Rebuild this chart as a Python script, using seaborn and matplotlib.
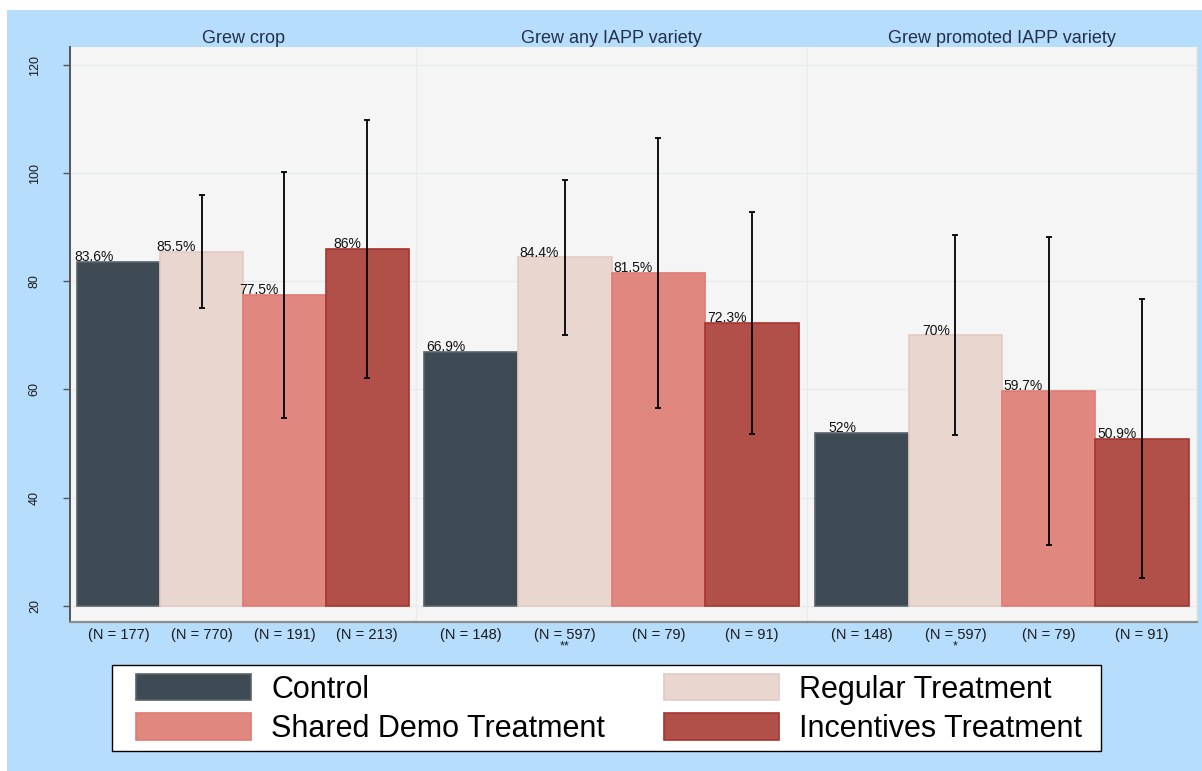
import numpy as np
import pandas as pd
import matplotlib
matplotlib.use("Agg")
import matplotlib.pyplot as plt
from matplotlib.patches import Patch, Rectangle
import seaborn as sns

# ---- data -------------------------------------------------------------
outcomes = ["Grew crop", "Grew any IAPP variety", "Grew promoted IAPP variety"]
treatments = ["Control", "Regular Treatment", "Shared Demo Treatment",
              "Incentives Treatment"]

crop_pct = [83.6, 85.5, 77.5, 86]
any_iapp_pct = [66.9, 84.4, 81.5, 72.3]
promoted_pct = [52, 70, 59.7, 50.9]

# half-width of the confidence interval (none for the control group)
crop_ci = [np.nan, 10.4, 22.8, 23.8]
any_iapp_ci = [np.nan, 14.4, 25.0, 20.5]
promoted_ci = [np.nan, 18.5, 28.5, 25.8]

crop_n = [177, 770, 191, 213]
any_iapp_n = [148, 597, 79, 91]
promoted_n = [148, 597, 79, 91]

crop_stars = ["", "", "", ""]
any_iapp_stars = ["", "**", "", ""]
promoted_stars = ["", "*", "", ""]

y_ticks = [20, 40, 60, 80, 100, 120]
bar_base = 20

panels = [
    (outcomes[0], crop_pct, crop_ci, crop_n, crop_stars),
    (outcomes[1], any_iapp_pct, any_iapp_ci, any_iapp_n, any_iapp_stars),
    (outcomes[2], promoted_pct, promoted_ci, promoted_n, promoted_stars),
]

# ---- style ------------------------------------------------------------
colors = ["#3f4b54", "#e8d6cf", "#e08880", "#b05048"]
edges = ["#59636b", "#e2cbc3", "#e27a72", "#a8342e"]
outer_bg = "#b7ddfd"
plot_bg = "#f5f5f5"
grid_c = "#e6ecec"

sns.set_theme(style="white")
plt.rcParams["font.family"] = ["Liberation Sans", "DejaVu Sans"]

W, H = 1202, 771
fig = plt.figure(figsize=(W / 100, H / 100), dpi=100)
fig.patch.set_facecolor("white")
fig.add_artist(Rectangle((7 / W, 0), 1 - 7 / W, 761 / H,
                         transform=fig.transFigure, facecolor=outer_bg,
                         edgecolor="none", zorder=0))

bottom_f = 148.7 / H
height_f = 575.3 / H
lefts = [70, 416, 807]
widths = [346, 391, 390]

ylim = (16.93, 123.33)

for i, (title, pct, ci, n, stars) in enumerate(panels):
    ax = fig.add_axes([lefts[i] / W, bottom_f, widths[i] / W, height_f])
    ax.set_facecolor(plot_bg)
    df = pd.DataFrame({"outcome": title, "treatment": treatments, "pct": pct})
    sns.barplot(data=df, x="outcome", y="pct", hue="treatment",
                hue_order=treatments, palette=colors, width=0.957,
                errorbar=None, legend=False, ax=ax, linewidth=1.2,
                saturation=1, zorder=2)
    bars = list(ax.patches)
    centers = []
    for p, ec in zip(bars, edges):
        top = p.get_y() + p.get_height()
        p.set_y(bar_base)
        p.set_height(top - bar_base)
        p.set_edgecolor(ec)
        centers.append(p.get_x() + p.get_width() / 2)
    centers = np.array(centers)

    ci_arr = np.array(ci, dtype=float)
    has_ci = ~np.isnan(ci_arr)
    ax.errorbar(centers[has_ci], np.array(pct)[has_ci], yerr=ci_arr[has_ci],
                fmt="none", ecolor="black", elinewidth=1.3, capsize=2,
                capthick=1.3, zorder=4)

    for c, v in zip(centers, pct):
        ax.annotate(f"{v:g}%", (c, v), xytext=(-4, 0.5),
                    textcoords="offset points", ha="right", va="baseline",
                    fontsize=10, color="#111111", zorder=5)

    ax.set_xlim(-0.5, 0.5)
    ax.set_ylim(*ylim)
    ax.set_yticks(y_ticks)
    ax.yaxis.grid(True, color=grid_c, linewidth=1, zorder=0)
    ax.set_axisbelow(True)
    ax.set_xticks(centers)
    ax.set_xticklabels([f"(N = {k})" for k in n], fontsize=10.5,
                       color="#1a1a1a")
    ax.tick_params(axis="x", length=0, pad=4)
    for c, s in zip(centers, stars):
        if s:
            ax.annotate(s, (c, 0), xycoords=("data", "axes fraction"),
                        xytext=(0, -13), textcoords="offset points",
                        ha="center", va="top", fontsize=9, color="#1a1a1a")
    ax.set_xlabel("")
    ax.set_ylabel("")
    ax.set_title(title, fontsize=13, color="#22304f", pad=3)

    for side in ["top", "right", "left"]:
        ax.spines[side].set_visible(False)
    ax.spines["bottom"].set_color("#8c8c8c")
    ax.spines["bottom"].set_linewidth(1.6)
    if i == 0:
        ax.spines["left"].set_visible(True)
        ax.spines["left"].set_color("#555555")
        ax.spines["left"].set_linewidth(1.4)
        ax.tick_params(axis="y", left=True, length=5, width=1,
                       color="#555555", labelsize=9, pad=16,
                       labelrotation=90, labelcolor="#1a1a1a")
        for lab in ax.get_yticklabels():
            lab.set_va("center")
    else:
        ax.spines["left"].set_visible(True)
        ax.spines["left"].set_color("#e6eded")
        ax.spines["left"].set_linewidth(1)
        ax.tick_params(axis="y", left=False, labelleft=False)
    if i == 2:
        ax.spines["right"].set_visible(True)
        ax.spines["right"].set_color("#d6dede")
        ax.spines["right"].set_linewidth(1)

# ---- legend -----------------------------------------------------------
# frame drawn separately so its padding can differ horizontally/vertically
fig.add_artist(Rectangle((112 / W, 1 - 751 / H), (1101 - 112) / W, 86 / H,
                         transform=fig.transFigure, facecolor="white",
                         edgecolor="black", linewidth=1, zorder=3))
handles = [Patch(facecolor=c, edgecolor=e, linewidth=1.2, label=t)
           for c, e, t in zip(colors, edges, treatments)]
order = [0, 2, 1, 3]
leg = fig.legend([handles[k] for k in order], [treatments[k] for k in order],
                 ncol=2, loc="center", bbox_to_anchor=(609 / W, 1 - 709 / H),
                 fontsize=22, frameon=False, borderpad=0,
                 handlelength=3.76, handleheight=0.95, handletextpad=0.65,
                 columnspacing=1.93, labelspacing=0.28)
leg.set_zorder(4)
for t in leg.get_texts():
    t.set_color("black")

fig.savefig("out.png", dpi=100, facecolor=fig.get_facecolor())
